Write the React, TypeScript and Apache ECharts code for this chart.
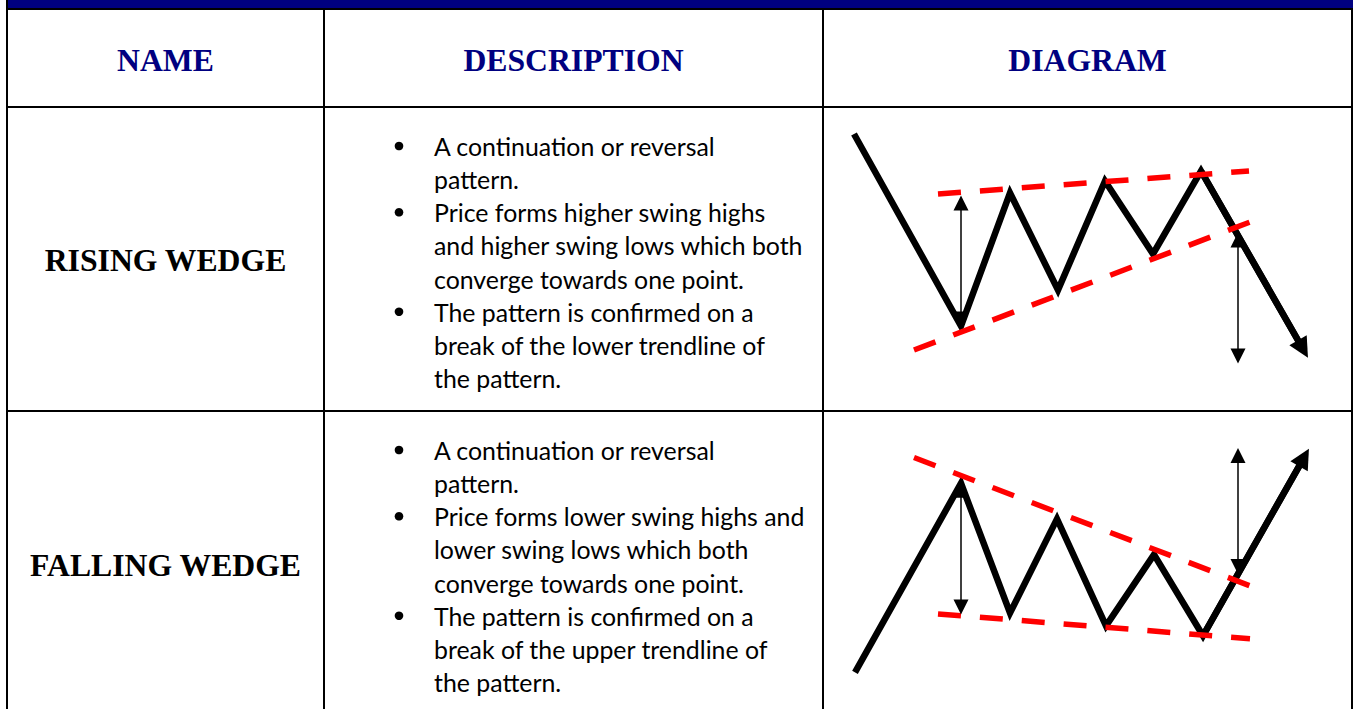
import React, { useEffect, useRef } from "react";
import * as echarts from "echarts";

const W = 1353;
const H = 709;

// ---- table texts ----
const headerLabels = ["NAME", "DESCRIPTION", "DIAGRAM"];
const patternNames = ["RISING WEDGE", "FALLING WEDGE"];
const risingBullets = [
  ["A continuation or reversal", "pattern."],
  ["Price forms higher swing highs", "and higher swing lows which both", "converge towards one point."],
  ["The pattern is confirmed on a", "break of the lower trendline of", "the pattern."],
];
const fallingBullets = [
  ["A continuation or reversal", "pattern."],
  ["Price forms lower swing highs and", "lower swing lows which both", "converge towards one point."],
  ["The pattern is confirmed on a", "break of the upper trendline of", "the pattern."],
];

// ---- diagram data (x = time units, y = price units) ----
const risingPrice = [[30, 276], [137, 84], [186, 217], [234, 120], [281, 229], [329, 156], [377, 239], [479, 61]];
const risingUpper = [[114, 216], [425, 239]];
const risingLower = [[90, 60], [426, 188]];
const risingArrows = [
  [[137, 207], [137, 91]],
  [[414, 170], [414, 54]],
];

const fallingPrice = [[31, 37], [137, 228], [186, 97], [233, 192], [282, 84], [330, 156], [379, 74], [480, 254]];
const fallingUpper = [[90, 254], [427, 124]];
const fallingLower = [[114, 96], [426, 71]];
const fallingArrows = [
  [[137, 221], [137, 103]],
  [[414, 256], [414, 144]],
];

const NAVY = "#000080";
const RED = "#FF0000";

function fitFont(text: string, family: string, target: number, weight = "normal") {
  const c = document.createElement("canvas").getContext("2d");
  if (!c) return 22;
  c.font = `${weight} 100px ${family}`;
  const w = c.measureText(text).width;
  if (!w) return 22;
  return Math.max(16, Math.min(32, (100 * target) / w));
}

export default function App() {
  const ref = useRef<HTMLDivElement>(null);
  useEffect(() => {
    if (!ref.current) return;
    const chart = echarts.init(ref.current, undefined, { renderer: "svg" });

    const descFamily = "Lato";
    const descSize = fitFont("A continuation or reversal", descFamily, 282);
    const serif = '"Liberation Serif", "Times New Roman", serif';
    const headSize = 31.7;

    const colL = 7, col1 = 324, col2 = 823, colR = 1352;
    const topY = 9, headY = 107, rowY = 411;

    const lineEl = (x1: number, y1: number, x2: number, y2: number) => ({
      type: "line",
      shape: { x1, y1, x2, y2 },
      style: { stroke: "#000", lineWidth: 2 },
      z: 20,
    });

    const graphics: any[] = [
      { type: "rect", shape: { x: 8, y: 0, width: W - 8, height: 8 }, style: { fill: NAVY }, z: 20 },
      lineEl(6, topY, W, topY),
      lineEl(colL, 0, colL, H),
      lineEl(colR, topY, colR, H),
      lineEl(colL, headY, colR, headY),
      lineEl(colL, rowY, colR, rowY),
      lineEl(col1, topY, col1, H),
      lineEl(col2, topY, col2, H),
    ];

    const headCenters = [(colL + col1) / 2, (col1 + col2) / 2, (col2 + colR) / 2];
    headerLabels.forEach((t, i) => {
      graphics.push({
        type: "text",
        x: headCenters[i],
        y: 60,
        style: {
          text: t, fill: NAVY, fontFamily: serif, fontWeight: "bold", fontSize: headSize,
          align: "center", verticalAlign: "middle", textAlign: "center", textVerticalAlign: "middle",
        },
        z: 21,
      });
    });

    const nameYs = [260, 565];
    patternNames.forEach((t, i) => {
      graphics.push({
        type: "text",
        x: headCenters[0],
        y: nameYs[i],
        style: {
          text: t, fill: "#000", fontFamily: serif, fontWeight: "bold", fontSize: headSize,
          align: "center", verticalAlign: "middle", textAlign: "center", textVerticalAlign: "middle",
        },
        z: 21,
      });
    });

    const pitch = 33.14;
    const descStarts = [146, 450];
    [risingBullets, fallingBullets].forEach((bullets, r) => {
      let k = 0;
      bullets.forEach((lines) => {
        const by = descStarts[r] + k * pitch;
        graphics.push({ type: "circle", shape: { cx: 399, cy: by, r: 4.3 }, style: { fill: "#000" }, z: 21 });
        lines.forEach((ln) => {
          graphics.push({
            type: "text",
            x: 434,
            y: descStarts[r] + k * pitch,
            style: {
              text: ln, fill: "#000", fontFamily: descFamily, fontSize: descSize,
              align: "left", verticalAlign: "middle", textAlign: "left", textVerticalAlign: "middle",
            },
            z: 21,
          });
          k++;
        });
      });
    });

    const grids = [
      { left: 824, top: 110, width: 529, height: 300 },
      { left: 824, top: 412, width: 529, height: 300 },
    ];
    const axisCommon = { type: "value", show: false, splitLine: { show: false } };

    const diagrams = [
      { price: risingPrice, upper: risingUpper, lower: risingLower, arrows: risingArrows },
      { price: fallingPrice, upper: fallingUpper, lower: fallingLower, arrows: fallingArrows },
    ];

    const series: any[] = [];
    diagrams.forEach((d, i) => {
      series.push({
        type: "line",
        xAxisIndex: i,
        yAxisIndex: i,
        data: d.price,
        symbol: "none",
        silent: true,
        clip: false,
        lineStyle: { color: "#000", width: 6.5, join: "miter", miterLimit: 10, cap: "butt" },
        z: 2,
      });
      series.push({
        type: "lines",
        coordinateSystem: "cartesian2d",
        xAxisIndex: i,
        yAxisIndex: i,
        symbol: ["none", "triangle"],
        symbolSize: 20,
        silent: true,
        lineStyle: { color: "#000", width: 6.5, opacity: 1 },
        data: [{ coords: d.price.slice(-2) }],
        z: 3,
      });
      [d.upper, d.lower].forEach((tl) => {
        series.push({
          type: "line",
          xAxisIndex: i,
          yAxisIndex: i,
          data: tl,
          symbol: "none",
          silent: true,
          clip: false,
          lineStyle: { color: RED, width: 5.5, type: [23, 19], cap: "butt" },
          z: 4,
        });
      });
      series.push({
        type: "lines",
        coordinateSystem: "cartesian2d",
        xAxisIndex: i,
        yAxisIndex: i,
        symbol: ["triangle", "triangle"],
        symbolSize: 15,
        silent: true,
        lineStyle: { color: "#000", width: 1.5, opacity: 1 },
        data: d.arrows.map((a) => ({ coords: a })),
        z: 5,
      });
    });

    chart.setOption({
      animation: false,
      backgroundColor: "#fff",
      grid: grids,
      xAxis: grids.map((_, i) => ({ ...axisCommon, gridIndex: i, min: 0, max: 529 })),
      yAxis: grids.map((_, i) => ({ ...axisCommon, gridIndex: i, min: 0, max: 300 })),
      series,
      graphic: { elements: graphics },
    });

    return () => chart.dispose();
  }, []);

  return (
    <div
      ref={ref}
      style={{ position: "fixed", left: 0, top: 0, width: W, height: H, background: "#fff" }}
    />
  );
}
